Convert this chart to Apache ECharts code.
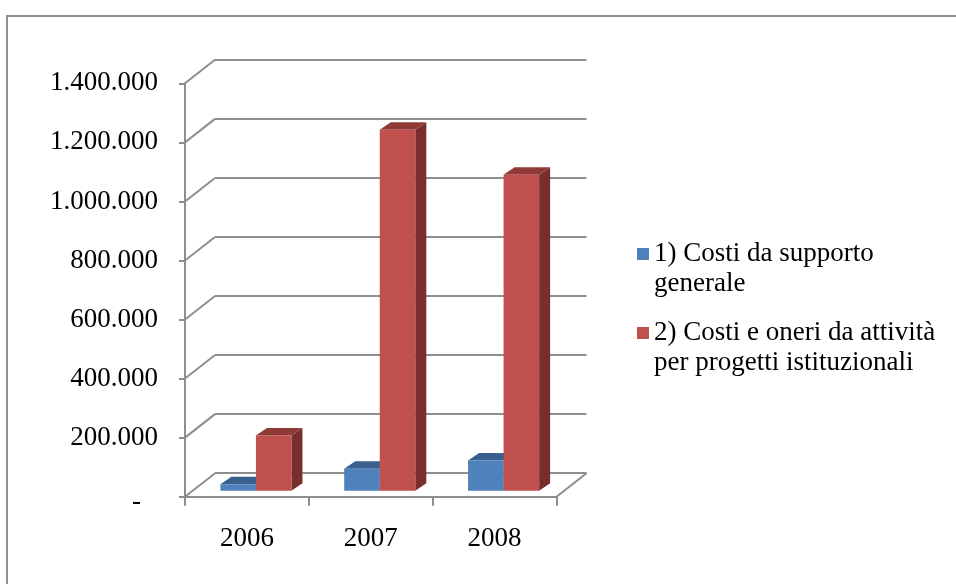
<!DOCTYPE html>
<html>
<head>
<meta charset="utf-8">
<script src="https://cdn.jsdelivr.net/npm/echarts@6/dist/echarts.min.js"></script>
<style>
  html, body { margin: 0; padding: 0; background: #ffffff; }
  #chart { width: 956px; height: 584px; }
</style>
</head>
<body>
<div id="chart"></div>
<script>
// Years on the category axis
const years = ['2006', '2007', '2008'];

// Series names (legend text, wrapped on two lines)
const seriesNames = [
  '1) Costi da supporto\ngenerale',
  '2) Costi e oneri da attività\nper progetti istituzionali'
];

// Values per year (euro)
const costiSupportoGenerale = [22000, 74000, 102000];
const costiProgettiIstituzionali = [187000, 1222000, 1070000];

// Value axis ticks
const yTicks = [0, 200000, 400000, 600000, 800000, 1000000, 1200000, 1400000];

// ---- drawing settings ----
const FONT = 'Liberation Serif, Times New Roman, serif';
const GRID_GRAY = '#8e8e8e';
const WALL_DEPTH = { x: 30, y: -23.5 };   // offset of the back wall from the front plane
const BAR_FRONT = { x: 9, y: -6 };        // bars stand a little behind the front edge
const BAR_DEPTH = { x: 11, y: -7.5 };     // thickness of each column
const BAR_RATIO = 0.287;                  // column width as a share of the category band

const faces = [
  { front: '#4F81BD', top: '#3A6090', side: '#2E4C72' },
  { front: '#C0504D', top: '#903A37', side: '#772E2C' }
];

const yMin = yTicks[0];
const yMax = yTicks[yTicks.length - 1];
const yStep = yTicks[1] - yTicks[0];

function formatThousands(v) {
  if (v === 0) return '{dash|-}';
  return String(v).replace(/\B(?=(\d{3})+(?!\d))/g, '.');
}

// A column with visible front, top and right side faces
function columnSeries(name, values, slot) {
  const c = faces[slot];
  return {
    name: name,
    type: 'custom',
    xAxisIndex: 0,
    yAxisIndex: 0,
    clip: false,
    z: 5,
    itemStyle: { color: c.front },
    data: values.map((v, i) => [i, v]),
    renderItem: function (params, api) {
      const cat = api.value(0);
      const base = api.coord([cat, 0]);
      const top = api.coord([cat, api.value(1)]);
      const bw = api.size([1, 0])[0] * BAR_RATIO;
      const x0 = base[0] + BAR_FRONT.x + (slot - 1) * bw;
      const x1 = x0 + bw;
      const yb = base[1] + BAR_FRONT.y;
      const yt = top[1] + BAR_FRONT.y;
      const dx = BAR_DEPTH.x, dy = BAR_DEPTH.y;
      return {
        type: 'group',
        children: [
          {
            type: 'polygon',
            shape: { points: [[x1, yt], [x1 + dx, yt + dy], [x1 + dx, yb + dy], [x1, yb]] },
            style: { fill: c.side }
          },
          {
            type: 'polygon',
            shape: { points: [[x0, yt], [x0 + dx, yt + dy], [x1 + dx, yt + dy], [x1, yt]] },
            style: { fill: c.top }
          },
          {
            type: 'rect',
            shape: { x: x0, y: yt, width: bw, height: yb - yt },
            style: { fill: c.front }
          }
        ]
      };
    }
  };
}

const chart = echarts.init(document.getElementById('chart'), null, { renderer: 'canvas' });

const frontGrid = { left: 185, top: 83.3, right: 399.5, bottom: 87.3 };
const backGrid = {
  left: frontGrid.left + WALL_DEPTH.x,
  top: frontGrid.top + WALL_DEPTH.y,
  right: frontGrid.right - WALL_DEPTH.x,
  bottom: frontGrid.bottom - WALL_DEPTH.y
};

chart.setOption({
  animation: false,
  backgroundColor: '#ffffff',
  textStyle: { fontFamily: FONT, color: '#000' },
  graphic: [
    {
      type: 'rect',
      shape: { x: 7, y: 16, width: 980, height: 600 },
      style: { fill: 'none', stroke: GRID_GRAY, lineWidth: 2 },
      silent: true,
      z: -10
    }
  ],
  legend: {
    orient: 'vertical',
    left: 637,
    top: 209,
    padding: 0,
    itemGap: -11,
    itemWidth: 12,
    itemHeight: 12,
    icon: 'rect',
    selectedMode: false,
    data: seriesNames,
    // an empty leading line keeps the marker level with the first text line
    formatter: name => '\n' + name,
    textStyle: {
      fontFamily: FONT,
      fontSize: 27,
      lineHeight: 30,
      color: '#000'
    }
  },
  grid: [
    Object.assign({ containLabel: false }, frontGrid),
    Object.assign({ containLabel: false }, backGrid)
  ],
  xAxis: [
    {
      type: 'category',
      gridIndex: 0,
      data: years,
      boundaryGap: true,
      axisLine: { show: true, lineStyle: { color: GRID_GRAY, width: 2 } },
      axisTick: { show: true, length: 9, lineStyle: { color: GRID_GRAY, width: 2 } },
      axisLabel: { fontFamily: FONT, fontSize: 27, color: '#000', margin: 29 },
      splitLine: { show: false }
    },
    {
      type: 'value',
      gridIndex: 1,
      show: false
    }
  ],
  yAxis: [
    {
      type: 'value',
      gridIndex: 0,
      min: yMin,
      max: yMax,
      interval: yStep,
      axisLine: { show: true, lineStyle: { color: GRID_GRAY, width: 2 } },
      axisTick: { show: true, length: 6, lineStyle: { color: GRID_GRAY, width: 2 } },
      axisLabel: {
        fontFamily: FONT,
        fontSize: 27,
        color: '#000',
        margin: 27,
        formatter: formatThousands,
        rich: { dash: { fontFamily: FONT, fontSize: 27, color: '#000', padding: [10, 17, 0, 0] } }
      },
      splitLine: { show: false }
    },
    {
      type: 'value',
      gridIndex: 1,
      min: yMin,
      max: yMax,
      interval: yStep,
      axisLine: { show: false },
      axisTick: { show: false },
      axisLabel: { show: false },
      splitLine: { show: true, lineStyle: { color: GRID_GRAY, width: 2 } }
    }
  ],
  series: [
    {
      // side wall edges joining the front axis to the back wall, plus the floor's right edge
      type: 'custom',
      xAxisIndex: 0,
      yAxisIndex: 0,
      clip: false,
      silent: true,
      z: 1,
      data: yTicks.map(v => [0, v]),
      renderItem: function (params, api) {
        const p = api.coord([0, api.value(1)]);
        const cs = params.coordSys;
        const style = { stroke: GRID_GRAY, lineWidth: 2, fill: 'none' };
        const children = [{
          type: 'line',
          shape: { x1: cs.x, y1: p[1], x2: cs.x + WALL_DEPTH.x, y2: p[1] + WALL_DEPTH.y },
          style: style
        }];
        if (api.value(1) === yMin) {
          children.push({
            type: 'line',
            shape: { x1: cs.x + cs.width, y1: p[1], x2: cs.x + cs.width + WALL_DEPTH.x, y2: p[1] + WALL_DEPTH.y },
            style: style
          });
        }
        return { type: 'group', children: children };
      }
    },
    columnSeries(seriesNames[0], costiSupportoGenerale, 0),
    columnSeries(seriesNames[1], costiProgettiIstituzionali, 1)
  ]
});
</script>
</body>
</html>
